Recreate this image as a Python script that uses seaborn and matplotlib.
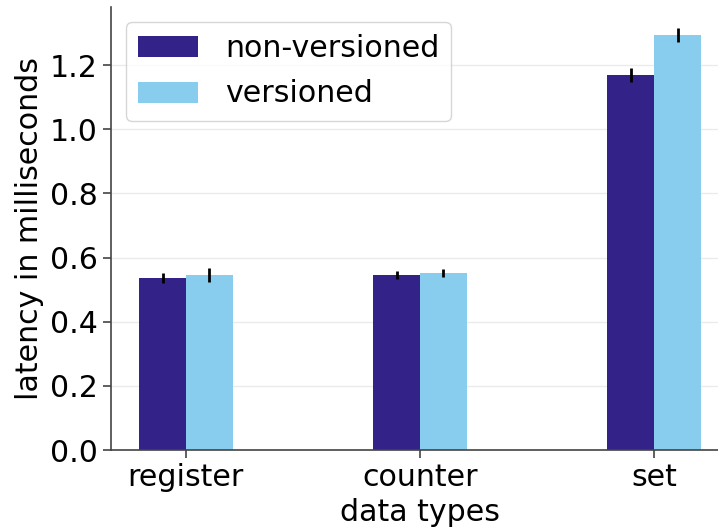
import numpy as np
import pandas as pd
import matplotlib
matplotlib.use("Agg")
import matplotlib.pyplot as plt
import seaborn as sns

# valores
tipos = ["register", "counter", "set"]
nao_versionado = [0.536, 0.545, 1.169]
versionado = [0.545, 0.552, 1.294]
erro_nao_versionado = [0.016, 0.013, 0.022]
erro_versionado = [0.022, 0.013, 0.021]

sns.set_theme(style="white", rc={"text.color": "black", "axes.labelcolor": "black",
                                 "xtick.color": "black", "ytick.color": "black"})
plt.rcParams["font.family"] = ["DejaVu Sans"]
FS = 21.6

df = pd.DataFrame({
    "tipo": tipos * 2,
    "latencia": nao_versionado + versionado,
    "serie": ["non-versioned"] * 3 + ["versioned"] * 3,
})

fig = plt.figure(figsize=(7.18, 5.29), dpi=100)
ax = fig.add_axes([111 / 718, 79 / 529, (729 - 111) / 718, (450 - 7) / 529])

sns.barplot(data=df, x="tipo", y="latencia", hue="serie", order=tipos,
            hue_order=["non-versioned", "versioned"],
            palette=["#332288", "#88CCEE"], width=0.4, errorbar=None,
            saturation=1, linewidth=0, ax=ax)

# barras de erro nos centros das barras
erros = erro_nao_versionado + erro_versionado
alturas = nao_versionado + versionado
for p, h, e in zip(ax.patches[:6], alturas, erros):
    cx = p.get_x() + p.get_width() / 2
    ax.errorbar(cx, h, yerr=e, color="black", elinewidth=2, capsize=0, zorder=5)

ax.set_xlim(-0.32, 2.32)
ax.set_ylim(0, 1.381)
ax.set_yticks([0.0, 0.2, 0.4, 0.6, 0.8, 1.0, 1.2])
ax.yaxis.grid(True, color="#ebebeb", linewidth=1)
ax.set_axisbelow(True)
for s in ["top", "right"]:
    ax.spines[s].set_visible(False)
for s in ["left", "bottom"]:
    ax.spines[s].set_color("#444444")
    ax.spines[s].set_linewidth(1.2)
ax.tick_params(axis="both", which="major", labelsize=FS, length=6, width=1.2,
               color="#444444", labelcolor="black", bottom=True, left=True)
ax.set_xlabel("data types", fontsize=FS, color="black")
ax.set_ylabel("latency in milliseconds", fontsize=FS, color="black")

leg = ax.legend(loc="upper left", fontsize=FS, title=None,
                handletextpad=0.9, labelspacing=0.55)
leg.get_frame().set_edgecolor("#cccccc")

fig.savefig("out.png", dpi=100)
